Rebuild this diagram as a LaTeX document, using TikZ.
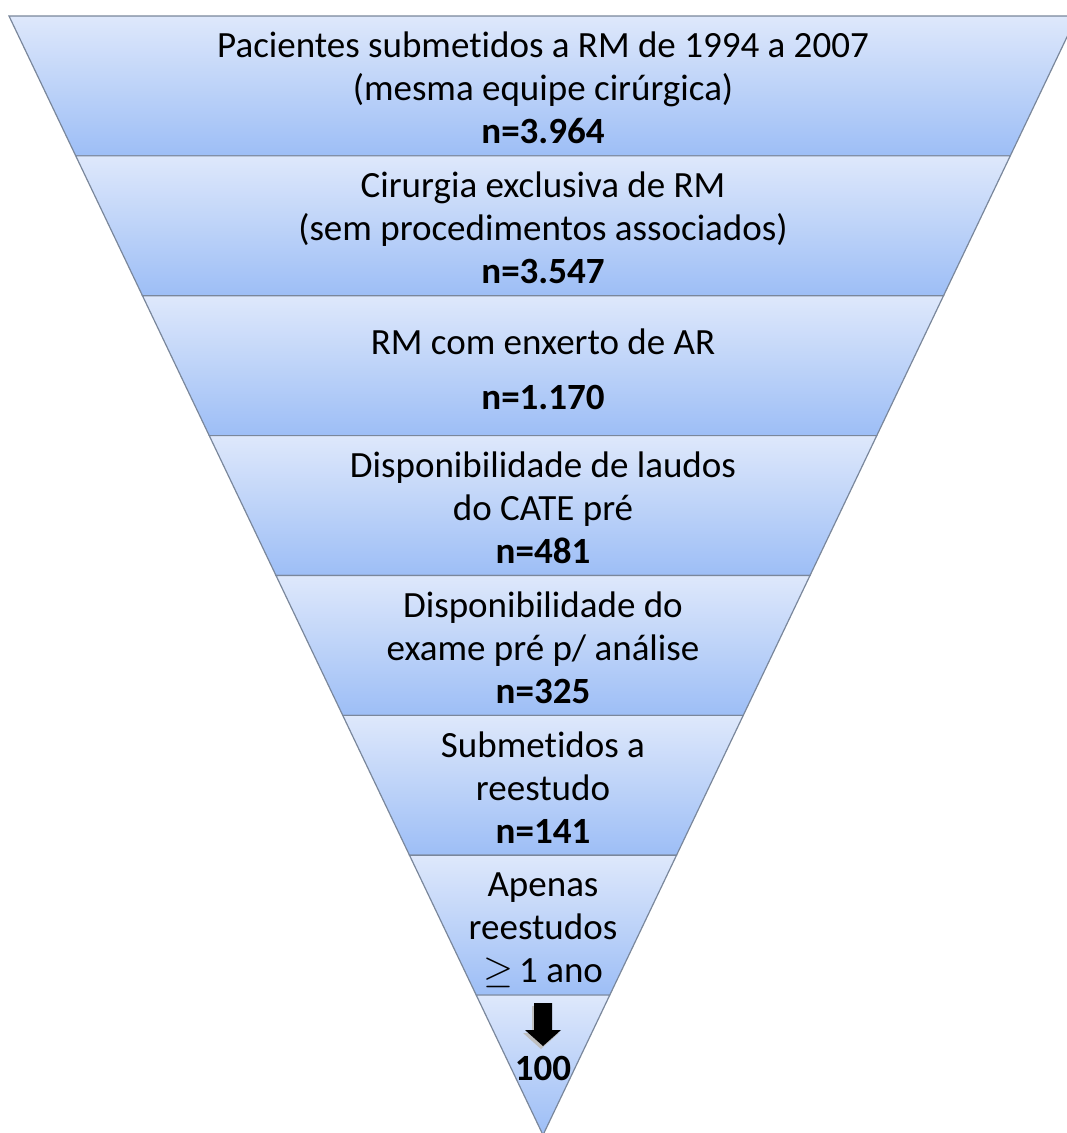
\documentclass[tikz,border=0pt]{standalone}
\usepackage{fontspec}
\setmainfont[Ligatures=CommonOff]{Carlito}
\usepackage{tikz}
\usetikzlibrary{calc,positioning}
\definecolor{bandtop}{HTML}{DEE8FB}
\definecolor{bandbot}{HTML}{9DBEF6}
\definecolor{bandline}{HTML}{7A879B}

\begin{document}
\begin{tikzpicture}[x=1pt,y=-1pt]
            \tikzstyle{band}=[draw=bandline, line width=1.2pt, top color=bandtop, bottom color=bandbot]
            \tikzstyle{step text}=[align=center, inner sep=0pt, font=\fontsize{37}{43}\selectfont]
            \clip (0,0) rectangle (1067,1133);
            \coordinate (tl) at (9,16);
            \coordinate (tr) at (1077,16);
            \coordinate (apex) at (543,1135);
            \foreach \i in {0,...,7}{
              \pgfmathsetmacro\ta{\i/8}
              \pgfmathsetmacro\tb{(\i+1)/8}
              \path[band] ($(tl)!\ta!(apex)$) -- ($(tr)!\ta!(apex)$) -- ($(tr)!\tb!(apex)$) -- ($(tl)!\tb!(apex)$) -- cycle;
            }
            {\node[step text] (pac) at (543,88){Pacientes submetidos a RM de 1994 a 2007\\(mesma equipe cirúrgica)\\\textbf{n=3.964}};
            \node[step text] (cir) at (543,228){Cirurgia exclusiva de RM\\(sem procedimentos associados)\\\textbf{n=3.547}};
            \node[step text] (enx) at (543,369){RM com enxerto de AR\\[12pt]\textbf{n=1.170}};
            \node[step text] (lau) at (543,508){Disponibilidade de laudos\\do CATE pré\\\textbf{n=481}};
            \node[step text] (exa) at (543,648){Disponibilidade do\\exame pré p/ análise\\\textbf{n=325}};
            \node[step text] (ree) at (543,788){Submetidos a\\reestudo\\\textbf{n=141}};
            \node[step text] (ano) at (543,928){Apenas\\reestudos\\\smash{\scalebox{1.55}{$\geq$}}\,1 ano};
            \node[step text] (res) at (543,1068){\textbf{100}};}
            % arrow down to the result
            \fill[black!25] (532,1006) -- (550,1006) -- (550,1033) -- (559,1033) -- (541,1049) -- (523,1033) -- (532,1033) -- cycle;
            \fill[black] (534,1003) -- (552,1003) -- (552,1030) -- (561,1030) -- (543,1046) -- (525,1030) -- (534,1030) -- cycle;
        \end{tikzpicture}
\end{document}
